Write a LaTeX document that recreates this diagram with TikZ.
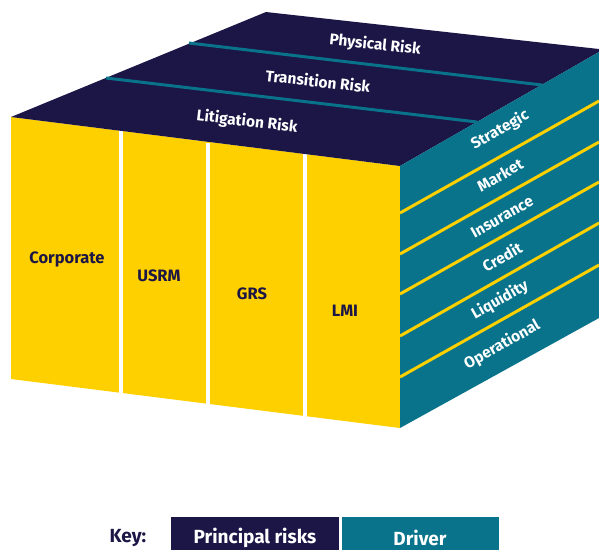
\documentclass[tikz,border=0pt]{standalone}
\usepackage{fontspec}
\setmainfont{Fira Sans}
\definecolor{navy}{RGB}{28,22,70}
\definecolor{teal}{RGB}{8,115,138}
\definecolor{gold}{RGB}{255,208,0}
\begin{document}
\begin{tikzpicture}[x=1pt,y=-1pt,
  unitlbl/.style={text=navy,font=\bfseries\fontsize{16.5}{16.5}\selectfont,inner sep=0pt},
  risklbl/.style={text=white,font=\bfseries\fontsize{15.5}{15.5}\selectfont,inner sep=0pt},
  drvlbl/.style={text=white,font=\bfseries\fontsize{15.5}{15.5}\selectfont,inner sep=0pt,rotate=29.5},
  keylbl/.style={font=\bfseries\fontsize{19}{19}\selectfont,inner sep=0pt},
  seam/.style={white,line width=3.5pt},
  band/.style={teal,line width=3pt},
  rib/.style={gold,line width=3pt}]
\useasboundingbox (0,0) rectangle (599,550);

% cube corners
\coordinate (ftl) at (11,117);
\coordinate (ftr) at (400,166);
\coordinate (fbr) at (400,428);
\coordinate (fbl) at (11,379);
\coordinate (tbl) at (266,12);
\coordinate (tbr) at (599,49);
\coordinate (rtr) at (599,52);
\coordinate (rbr) at (599,318);

% front face
\fill[gold] (ftl) -- (ftr) -- (fbr) -- (fbl) -- cycle;
\foreach \x/\a/\b in {121/131/393, 208/143/404, 305/154/416}
  \draw[seam] (\x,\a) -- (\x,\b);

% top face
\fill[navy] (ftl) -- (tbl) -- (tbr) -- (rtr) -- (ftr) -- cycle;
\coordinate (b1l) at (106,78);  \coordinate (b1r) at (477,122);
\coordinate (b2l) at (189,43);  \coordinate (b2r) at (542,85);
\draw[band] (b1l) -- (b1r);
\draw[band] (b2l) -- (b2r);

% right face
\fill[teal] (ftr) -- (rtr) -- (rbr) -- (fbr) -- cycle;
\foreach \a/\b in {213/101, 254/142, 294/182, 336/223, 377/265}
  \draw[rib] (400,\a) -- (599,\b);

% business units
\node[unitlbl] (corp) at (67,259) {Corporate};
\node[unitlbl] (usrm) at (159,276) {USRM};
\node[unitlbl] (grs)  at (252,294) {GRS};
\node[unitlbl] (lmi)  at (345,311) {LMI};

% principal risks
\node[risklbl,rotate=-6.8] (lit)  at (247,122) {Litigation Risk};
\node[risklbl,rotate=-6.3] (trn)  at (318,81) {Transition Risk};
\node[risklbl,rotate=-5.8] (phy)  at (375,45) {Physical Risk};

% drivers
\node[drvlbl] (str) at (500,130) {Strategic};
\node[drvlbl] (mkt) at (500,175) {Market};
\node[drvlbl] (ins) at (502,217) {Insurance};
\node[drvlbl] (cre) at (502,257) {Credit};
\node[drvlbl] (liq) at (500,300) {Liquidity};
\node[drvlbl] (ops) at (502,345) {Operational};

% key
\fill[navy] (171,517) rectangle (339,550);
\fill[teal] (342,517) rectangle (499,550);
\node[keylbl,text=navy] (key) at (128,538) {Key:};
\node[keylbl,text=white] (kpr) at (255,538) {Principal risks};
\node[keylbl,text=white] (kdr) at (420,538) {Driver};
\end{tikzpicture}
\end{document}
